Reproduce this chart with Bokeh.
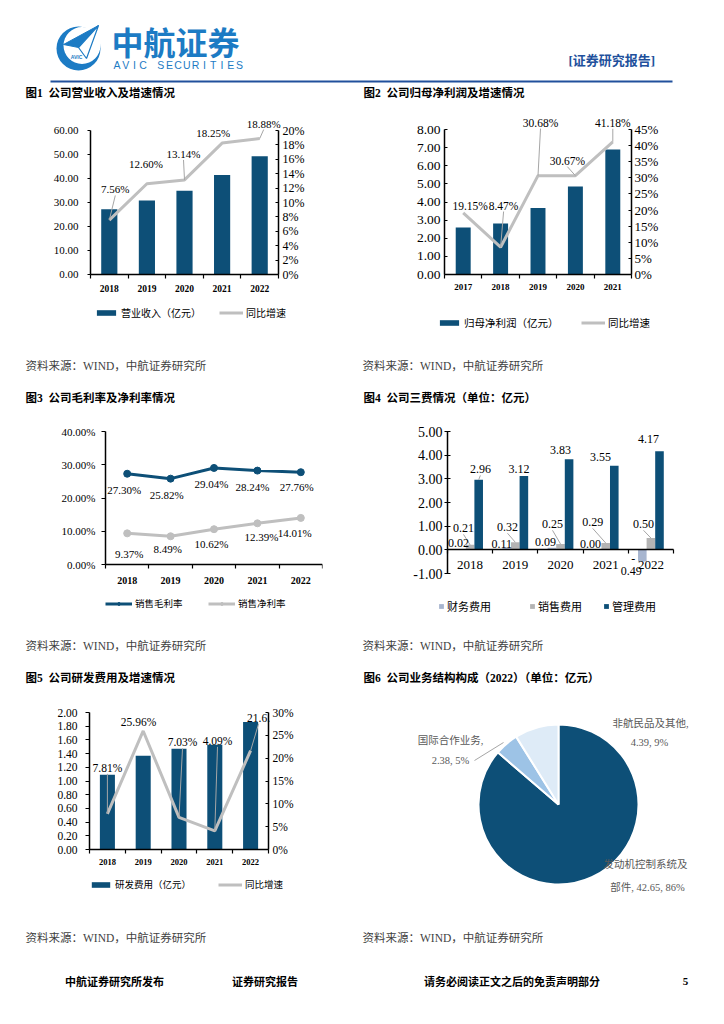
import numpy as np
from bokeh.plotting import figure
from bokeh.layouts import column, row
from bokeh.models import (Range1d, LinearAxis, FixedTicker, Label, LabelSet, ColumnDataSource,
                          Legend, LegendItem, NumeralTickFormatter, PrintfTickFormatter,
                          CustomJSTickFormatter)
from bokeh.core.properties import value
from bokeh.embed import file_html
from bokeh.resources import INLINE

# ------------------------------------------------------------------ data
rev_years = ["2018", "2019", "2020", "2021", "2022"]
revenue = [27.2, 30.8, 34.9, 41.5, 49.3]
revenue_yoy = [7.56, 12.60, 13.14, 18.25, 18.88]
rev_ticks = [0, 10, 20, 30, 40, 50, 60]
rev_yoy_ticks = [0, 2, 4, 6, 8, 10, 12, 14, 16, 18, 20]

np_years = ["2017", "2018", "2019", "2020", "2021"]
net_profit = [2.59, 2.81, 3.67, 4.86, 6.89]
net_profit_yoy = [19.15, 8.47, 30.68, 30.67, 41.18]
np_ticks = [0, 1, 2, 3, 4, 5, 6, 7, 8]
np_yoy_ticks = [0, 5, 10, 15, 20, 25, 30, 35, 40, 45]

margin_years = ["2018", "2019", "2020", "2021", "2022"]
gross_margin = [27.30, 25.82, 29.04, 28.24, 27.76]
net_margin = [9.37, 8.49, 10.62, 12.39, 14.01]
margin_ticks = [0, 10, 20, 30, 40]

exp_years = ["2018", "2019", "2020", "2021", "2022"]
fin_exp = [0.02, 0.11, 0.09, 0.00, -0.49]
sales_exp = [0.21, 0.32, 0.25, 0.29, 0.50]
admin_exp = [2.96, 3.12, 3.83, 3.55, 4.17]
exp_ticks = [-1, 0, 1, 2, 3, 4, 5]

rd_years = ["2018", "2019", "2020", "2021", "2022"]
rd_exp = [1.09, 1.37, 1.47, 1.53, 1.86]
rd_yoy = [7.81, 25.96, 7.03, 4.09, 21.63]
rd_ticks = [0, 0.2, 0.4, 0.6, 0.8, 1.0, 1.2, 1.4, 1.6, 1.8, 2.0]
rd_yoy_ticks = [0, 5, 10, 15, 20, 25, 30]

seg_names = ["发动机控制系统及部件", "国际合作业务", "非航民品及其他"]
seg_values = [42.65, 2.38, 4.39]

titles = ["图1\u00a0\u00a0公司营业收入及增速情况", "图2\u00a0\u00a0公司归母净利润及增速情况",
          "图3\u00a0\u00a0公司毛利率及净利率情况", "图4\u00a0\u00a0公司三费情况（单位：亿元）",
          "图5\u00a0\u00a0公司研发费用及增速情况", "图6\u00a0\u00a0公司业务结构构成（2022）（单位：亿元）"]
SOURCE = "资料来源：WIND，中航证券研究所"
footer_texts = ["中航证券研究所发布", "证券研究报告", "请务必阅读正文之后的免责声明部分", "5"]

# ------------------------------------------------------------------ style
SERIF = "Liberation Serif"
MIX = "'Liberation Serif', 'Noto Sans CJK SC'"
DARK = "#0D4F77"
GRAYL = "#BFBFBF"
FIN_C = "#A7B5CF"
SALES_C = "#B4B4B4"
PIE_C = [DARK, "#9DC3E6", "#DEEBF7"]
LEAD = "#A6A6A6"
TXT = "#000000"
SRC_C = "#3F3F3F"
LOGO_C = "#1C7BC4"
HEAD_C = "#21509C"
W = 724
BL, BR, BT, BB = 50, 34, 0, 24


def band_fig(top, bottom):
    p = figure(width=W, height=bottom - top, x_range=Range1d(0, W), y_range=Range1d(-bottom, -top),
               x_axis_type=None, y_axis_type=None, output_backend="svg", toolbar_location=None,
               title=None, min_border=0)
    p.outline_line_color = None
    return p


def band_text(p, xs, ys, texts, size, bold=False, color=TXT, align="left", font=MIX):
    p.text(x=xs, y=[-y for y in ys], text=texts, text_font=value(font),
           text_font_size=value(f"{size}px"), text_font_style="bold" if bold else "normal",
           text_color=color, text_align=align, text_baseline="middle")


def chart_fig(panel, axbox, xr, yr, rr=None, axes=True, bl=BL, br=BR):
    pl, pt, pr, pb = panel
    fl, ft, fr, fb = pl + bl, pt + BT, pr - br, pb - BB
    al, at, ar, ab = axbox
    ppx = (ar - al) / (xr[1] - xr[0])
    ppy = (ab - at) / (yr[1] - yr[0])
    kw = {} if axes else dict(x_axis_type=None, y_axis_type=None)
    p = figure(width=pr - pl, height=pb - pt,
               x_range=Range1d(xr[0] - (al - fl) / ppx, xr[1] + (fr - ar) / ppx),
               y_range=Range1d(yr[0] - (fb - ab) / ppy, yr[1] + (at - ft) / ppy),
               output_backend="svg", toolbar_location=None, title=None,
               min_border_left=bl, min_border_right=br, min_border_top=BT, min_border_bottom=BB,
               **kw)
    p.outline_line_color = None
    if axes:
        p.xgrid.visible = False
        p.ygrid.visible = False
    c = dict(p=p, frame=(fl, ft, fr, fb), ppx=ppx, ppy=ppy, xr=xr, yr=yr)
    if rr is not None:
        ppr = (ab - at) / (rr[1] - rr[0])
        p.extra_y_ranges = {"r": Range1d(rr[0] - (fb - ab) / ppr, rr[1] + (at - ft) / ppr)}
        c["ppr"] = ppr
    return c


def style_axis(ax, size, bold=False, tin=0, tout=4, so=6, font=SERIF):
    ax.axis_line_color = "#000000"
    ax.axis_line_width = 1.5
    ax.major_tick_line_color = "#000000"
    ax.major_tick_line_width = 1.2
    ax.major_tick_in = tin
    ax.major_tick_out = tout
    ax.minor_tick_line_color = None
    ax.major_label_text_font = font
    ax.major_label_text_font_size = f"{size}px"
    ax.major_label_text_font_style = "bold" if bold else "normal"
    ax.major_label_text_color = "#000000"
    ax.major_label_standoff = so


def left_axis(c, ticks, fmt, size, tin, tout, so):
    ax = c["p"].yaxis[0]
    ax.ticker = FixedTicker(ticks=ticks)
    ax.formatter = fmt
    ax.fixed_location = c["xr"][0]
    ax.bounds = (c["yr"][0], c["yr"][1])
    style_axis(ax, size, False, tin, tout, so)


def right_axis(c, ticks, fmt, size, tin, tout, so):
    ax = LinearAxis(y_range_name="r", ticker=FixedTicker(ticks=ticks), formatter=fmt,
                    fixed_location=c["xr"][1], bounds=(ticks[0], ticks[-1]))
    style_axis(ax, size, False, tin, tout, so)
    c["p"].add_layout(ax, "right")


def cat_xaxis(c, cats, size, bold, so, at=None):
    ax = c["p"].xaxis[0]
    n = len(cats)
    ax.ticker = FixedTicker(ticks=[i + 0.5 for i in range(n)], minor_ticks=list(range(n + 1)))
    ax.formatter = CustomJSTickFormatter(args=dict(labels=cats),
                                         code="return labels[Math.floor(tick)];")
    style_axis(ax, size, bold, 0, 0, so)
    ax.minor_tick_line_color = "#000000"
    ax.minor_tick_line_width = 1.2
    ax.minor_tick_out = 4
    ax.minor_tick_in = 0
    ax.fixed_location = c["yr"][0] if at is None else at
    ax.bounds = (c["xr"][0], c["xr"][1])


def add_labels(c, xs, ys, texts, dxs, ups, size, lead=None, rname="default", color=TXT):
    p = c["p"]
    ppx = c["ppx"]
    ppy = c["ppr"] if rname == "r" else c["ppy"]
    ly = [y + u / ppy for y, u in zip(ys, ups)]
    src = ColumnDataSource(dict(x=xs, y=ly, t=texts, dx=dxs))
    p.add_layout(LabelSet(x="x", y="y", text="t", x_offset="dx", source=src, y_range_name=rname,
                          text_font=value(SERIF), text_font_size=value(f"{size}px"),
                          text_color=color, text_align="center", text_baseline="middle"))
    if lead:
        x0, y0, x1, y1 = [], [], [], []
        for x, y, dx, u, f in zip(xs, ys, dxs, ups, lead):
            if f:
                s = 1 if u > 0 else -1
                x0.append(x + dx / ppx)
                y0.append(y + (u - 6 * s) / ppy)
                x1.append(x)
                y1.append(y)
        p.segment(x0=x0, y0=y0, x1=x1, y1=y1, y_range_name=rname, line_color=LEAD, line_width=1)


def legend_item(c, X, Y, label, renderers, gw, gh, size):
    fl, ft, fr, fb = c["frame"]
    H = 14
    lg = Legend(items=[LegendItem(label=label, renderers=renderers)],
                location=(X - fl, fb - Y - H / 2), orientation="horizontal",
                padding=0, margin=0, spacing=0, label_standoff=3,
                glyph_width=gw, glyph_height=gh, label_height=H, label_width=10,
                label_text_font=MIX, label_text_font_size=f"{size}px", label_text_color=TXT,
                border_line_color=None, background_fill_alpha=0)
    c["p"].add_layout(lg)


def page_text(c, X, Y, text, size, color=TXT, align="center"):
    fl, ft, fr, fb = c["frame"]
    c["p"].add_layout(Label(x=X - fl, y=fb - Y, x_units="screen", y_units="screen", text=text,
                            text_font=MIX, text_font_size=f"{size}px", text_color=color,
                            text_align=align, text_baseline="middle"))


# ------------------------------------------------------------------ header band (0-100)
ph = band_fig(0, 100)
ph.circle(x=[78], y=[-48], radius=22, fill_color=LOGO_C, line_color=None)
ph.circle(x=[81.5], y=[-45], radius=18.5, fill_color="white", line_color=None)
ph.patch(x=[98, 63, 78], y=[-25, -44, -47], fill_color=LOGO_C, line_color=LOGO_C)
ph.patch(x=[98, 78, 86], y=[-25, -47, -58], fill_color="white", line_color=LOGO_C, line_width=1.2)
ph.text(x=[76], y=[-56], text=["AVIC"], text_font=value("Liberation Sans"),
        text_font_size=value("5px"), text_font_style="bold", text_color=LOGO_C,
        text_align="center", text_baseline="middle")
ph.text(x=[111], y=[-40], text=["中航证券"], text_font=value("Noto Sans CJK SC"),
        text_font_size=value("32px"), text_font_style="bold", text_color=LOGO_C,
        text_align="left", text_baseline="middle")
letters = list("AVIC SECURITIES")
ph.text(x=[116.4 + i * 8.75 for i in range(len(letters))], y=[-64] * len(letters), text=letters,
        text_font=value("Liberation Sans"), text_font_size=value("10.5px"),
        text_color=LOGO_C, text_align="center", text_baseline="middle")
band_text(ph, [568], [60], ["[证券研究报告]"], 13, bold=True, color=HEAD_C)
ph.segment(x0=[50], y0=[-81], x1=[672], y1=[-81], line_color=HEAD_C, line_width=2)
band_text(ph, [25, 363], [92, 92], titles[0:2], 11.5, bold=True)

# ------------------------------------------------------------------ row 1 (100-358)
R1 = (100, 358)
# chart 1
n1 = len(rev_years)
x1 = [i + 0.5 for i in range(n1)]
c1 = chart_fig((0, R1[0], 356, R1[1]), (90, 130, 278, 274), (0, n1),
               (rev_ticks[0], rev_ticks[-1]), rr=(rev_yoy_ticks[0], rev_yoy_ticks[-1]))
p1 = c1["p"]
left_axis(c1, rev_ticks, NumeralTickFormatter(format="0.00"), 11, 0, 3, 9)
right_axis(c1, rev_yoy_ticks, PrintfTickFormatter(format="%d%%"), 12, 3, 0, 4)
cat_xaxis(c1, rev_years, 9.5, True, 6)
b1 = p1.vbar(x=x1, top=revenue, width=0.43, fill_color=DARK, line_color=None)
l1 = p1.line(x=x1, y=revenue_yoy, y_range_name="r", line_color=GRAYL, line_width=3)
add_labels(c1, x1, revenue_yoy, [f"{v:.2f}%" for v in revenue_yoy],
           [6, -1, -1, -9, 4], [30.6, 20, 26, 10.6, 15], 11, [1, 0, 1, 0, 1], "r")
legend_item(c1, 94, 313, "营业收入（亿元）", [b1], 24, 7, 10)
legend_item(c1, 219, 313, "同比增速", [l1], 24, 7, 10)

# chart 2
n2 = len(np_years)
x2 = [i + 0.5 for i in range(n2)]
c2 = chart_fig((356, R1[0], W, R1[1]), (444, 129, 631, 274), (0, n2),
               (np_ticks[0], np_ticks[-1]), rr=(np_yoy_ticks[0], np_yoy_ticks[-1]))
p2 = c2["p"]
left_axis(c2, np_ticks, NumeralTickFormatter(format="0.00"), 13.5, 3, 0, 4)
right_axis(c2, np_yoy_ticks, PrintfTickFormatter(format="%d%%"), 13, 3, 0, 3)
cat_xaxis(c2, np_years, 9, True, 5)
b2 = p2.vbar(x=x2, top=net_profit, width=0.40, fill_color=DARK, line_color=None)
l2 = p2.line(x=x2, y=net_profit_yoy, y_range_name="r", line_color=GRAYL, line_width=3)
add_labels(c2, x2, net_profit_yoy, [f"{v:.2f}%" for v in net_profit_yoy],
           [7, 3, 2.5, -8, 0], [7, 41.7, 53, 15, 19], 11.5, [0, 1, 1, 1, 1], "r")
legend_item(c2, 437, 323, "归母净利润（亿元）", [b2], 24, 7, 10.5)
legend_item(c2, 581, 323, "同比增速", [l2], 24, 7, 10.5)

# ------------------------------------------------------------------ band 2 (358-412)
pb2 = band_fig(358, 412)
band_text(pb2, [25, 362], [365, 365], [SOURCE, SOURCE], 11.5, color=SRC_C)
band_text(pb2, [25, 363], [397, 397], titles[2:4], 11.5, bold=True)

# ------------------------------------------------------------------ row 2 (412-638)
R2 = (412, 638)
# chart 3
n3 = len(margin_years)
x3 = [i + 0.5 for i in range(n3)]
c3 = chart_fig((0, R2[0], 356, R2[1]), (105, 431, 322, 564), (0, n3),
               (margin_ticks[0], margin_ticks[-1]))
p3 = c3["p"]
left_axis(c3, margin_ticks, PrintfTickFormatter(format="%.2f%%"), 11, 0, 4, 6)
cat_xaxis(c3, margin_years, 10, True, 8)
g_line = p3.line(x=x3, y=gross_margin, line_color=DARK, line_width=3)
g_pts = p3.scatter(x=x3, y=gross_margin, marker="circle", size=7, fill_color=DARK, line_color=DARK)
n_line = p3.line(x=x3, y=net_margin, line_color=GRAYL, line_width=3)
n_pts = p3.scatter(x=x3, y=net_margin, marker="circle", size=7, fill_color=GRAYL, line_color=GRAYL)
add_labels(c3, x3, gross_margin, [f"{v:.2f}%" for v in gross_margin],
           [-3, -4, -2.5, -5, -4], [-16, -16, -15.6, -16, -15.3], 11)
add_labels(c3, x3, net_margin, [f"{v:.2f}%" for v in net_margin],
           [2, -3, -2.5, 4, -6], [-21, -13, -15, -14, -14.6], 11)
legend_item(c3, 105, 603, "销售毛利率", [g_line, g_pts], 27, 7, 9.5)
legend_item(c3, 208, 603, "销售净利率", [n_line, n_pts], 27, 7, 9.5)

# chart 4
n4 = len(exp_years)
x4 = [i + 0.5 for i in range(n4)]
bw = 0.19
c4 = chart_fig((356, R2[0], W, R2[1]), (447, 431, 673, 573), (0, n4),
               (exp_ticks[0], exp_ticks[-1]), br=30)
p4 = c4["p"]
left_axis(c4, exp_ticks, NumeralTickFormatter(format="0.00"), 14, 3, 3, 2)
cat_xaxis(c4, exp_years, 13, False, 7, at=0)
xf = [x - bw for x in x4]
xa = [x + bw for x in x4]
bf = p4.vbar(x=xf, top=fin_exp, width=bw, fill_color=FIN_C, line_color=None)
bs = p4.vbar(x=x4, top=sales_exp, width=bw, fill_color=SALES_C, line_color=None)
ba = p4.vbar(x=xa, top=admin_exp, width=bw, fill_color=DARK, line_color=None)
# the negative value's label is wrapped in the original: a lone "-" above the number
add_labels(c4, xf, fin_exp, [f"{abs(v):.2f}" for v in fin_exp],
           [-3, -5, -6.5, -6.7, -11], [6, 3, 5.4, 5.5, -10], 12)
neg = [i for i, v in enumerate(fin_exp) if v < 0]
add_labels(c4, [xf[i] for i in neg], [fin_exp[i] for i in neg], ["-"] * len(neg),
           [-9] * len(neg), [2] * len(neg), 12)
add_labels(c4, x4, sales_exp, [f"{v:.2f}" for v in sales_exp],
           [-6.6, -7.8, -8, -13, -7.4], [16.5, 15, 19.6, 20.6, 13.7], 12, [1, 1, 1, 1, 1])
add_labels(c4, xa, admin_exp, [f"{v:.2f}" for v in admin_exp],
           [1.7, -5, -8.5, -13.7, -11], [10.4, 6.7, 8.8, 8.5, 11.8], 12, [1, 0, 0, 0, 0])
legend_item(c4, 438, 607, "财务费用", [bf], 6, 6, 11)
legend_item(c4, 529, 607, "销售费用", [bs], 6, 6, 11)
legend_item(c4, 603, 607, "管理费用", [ba], 6, 6, 11)

# ------------------------------------------------------------------ band 3 (638-694)
pb3 = band_fig(638, 694)
band_text(pb3, [25, 362], [645, 645], [SOURCE, SOURCE], 11.5, color=SRC_C)
band_text(pb3, [25, 363], [677, 677], titles[4:6], 11.5, bold=True)

# ------------------------------------------------------------------ row 3 (694-925)
R3 = (694, 925)
# chart 5
n5 = len(rd_years)
x5 = [i + 0.5 for i in range(n5)]
c5 = chart_fig((0, R3[0], 356, R3[1]), (89, 712, 268, 849), (0, n5),
               (rd_ticks[0], rd_ticks[-1]), rr=(rd_yoy_ticks[0], rd_yoy_ticks[-1]))
p5 = c5["p"]
left_axis(c5, rd_ticks, NumeralTickFormatter(format="0.00"), 11.5, 0, 4, 8)
right_axis(c5, rd_yoy_ticks, PrintfTickFormatter(format="%d%%"), 11.5, 3, 0, 4)
cat_xaxis(c5, rd_years, 8.5, True, 5)
b5 = p5.vbar(x=x5, top=rd_exp, width=0.42, fill_color=DARK, line_color=None)
l5 = p5.line(x=x5, y=rd_yoy, y_range_name="r", line_color=GRAYL, line_width=3)
rd_lab = [f"{v:.2f}%" for v in rd_yoy]
rd_lab[-1] = rd_lab[-1][:4] + "."   # this label is cut off in the original
add_labels(c5, x5, rd_yoy, rd_lab,
           [0, -4.7, 3.5, 2.7, 8], [46, 9.4, 75, 90, 33], 11.5, [1, 0, 1, 1, 1], "r")
legend_item(c5, 89, 884, "研发费用（亿元）", [b5], 23, 7, 9.5)
legend_item(c5, 218, 884, "同比增速", [l5], 24, 7, 9.5)

# chart 6 (pie)
CX, CY, R = 558, 804, 80
c6 = chart_fig((356, R3[0], W, R3[1]), (CX - R, CY - R, CX + R, CY + R), (-R, R), (-R, R),
               axes=False, bl=40, br=16)
p6 = c6["p"]
total = sum(seg_values)
fracs = [v / total for v in seg_values]
cum = np.cumsum([0.0] + fracs)
starts = [np.pi / 2 - 2 * np.pi * c for c in cum[:-1]]
ends = [np.pi / 2 - 2 * np.pi * c for c in cum[1:]]
p6.wedge(x=0, y=0, radius=R, start_angle=starts, end_angle=ends, direction="clock",
         fill_color=PIE_C, line_color="white", line_width=2)
pcts = [f"{round(f * 100):d}%" for f in fracs]
pie_lines = [
    (seg_names[0][:8], 645, 864),
    (f"{seg_names[0][8:]}, {seg_values[0]:.2f}, {pcts[0]}", 647, 887),
    (f"{seg_names[1]},", 450, 740),
    (f"{seg_values[1]:.2f}, {pcts[1]}", 450, 760),
    (f"{seg_names[2]},", 650, 723),
    (f"{seg_values[2]:.2f}, {pcts[2]}", 649, 742),
]
for t, X, Y in pie_lines:
    page_text(c6, X, Y, t, 10.5, color="#595959")
p6.segment(x0=[474 - CX], y0=[CY - 760], x1=[503 - CX], y1=[CY - 742], line_color=LEAD,
           line_width=1)

# ------------------------------------------------------------------ footer band (925-1024)
pf = band_fig(925, 1024)
band_text(pf, [25, 362], [937, 937], [SOURCE, SOURCE], 11.5, color=SRC_C)
band_text(pf, [114, 264.5, 511.5, 685], [981] * 4, footer_texts, 11, bold=True, align="center")

layout = column(ph, row(p1, p2), pb2, row(p3, p4), pb3, row(p5, p6), pf)
open("out.html", "w").write(file_html(layout, INLINE))
